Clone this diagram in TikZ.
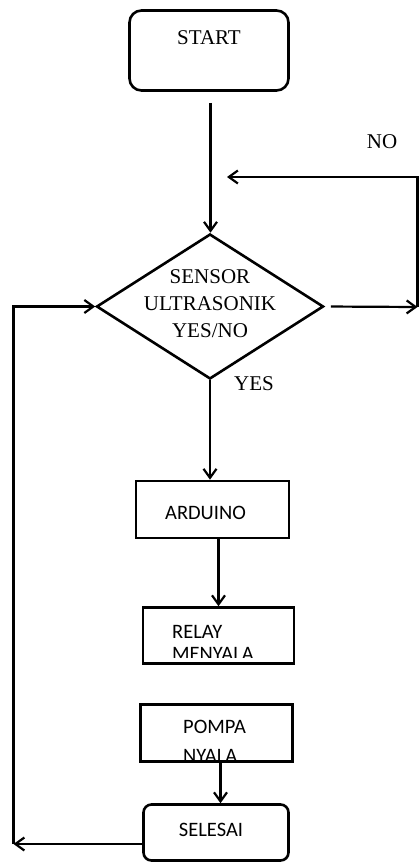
\documentclass[tikz,border=0pt]{standalone}
\usepackage{fontspec}
\setmainfont{Liberation Serif}
\newfontfamily\calfont{Carlito}
\usetikzlibrary{shapes.geometric,arrows.meta,calc}
\begin{document}
\begin{tikzpicture}[x=1pt,y=-1pt,
  serif/.style={inner sep=0,font=\fontsize{21}{27}\selectfont},
  sans/.style={inner sep=0,font=\calfont\fontsize{20.5}{21}\selectfont},
  roundbox/.style={draw,line width=2.6pt,rounded corners=#1,inner sep=0},
  flowbox/.style={draw,line width=2.6pt,inner sep=0},
  decision/.style={draw,diamond,line width=2.6pt,inner sep=0,minimum width=227pt,minimum height=145pt},
  flow/.style={line width=2.2pt,-{Straight Barb[length=9pt,width=13pt]}},
  plain/.style={line width=2.2pt}
]
\useasboundingbox (0,0) rectangle (419,864);

% START
\node[roundbox=12pt,minimum width=159pt,minimum height=80pt] (start) at (209,50.5) {};
\node[serif,anchor=base] (starttxt) at (209,45) {START};

% decision
\node[decision] (dia) at (210,306.5) {};
\node[serif,align=center] (diatxt) at (210,304) {SENSOR\\ULTRASONIK\\YES/NO};

% labels
\node[serif,anchor=base] (nolbl) at (382,148) {NO};
\node[serif,anchor=base] (yeslbl) at (254,390) {YES};

% ARDUINO
\node[flowbox,minimum width=153pt,minimum height=57pt] (arduino) at (212.5,509.5) {};
\node[sans,anchor=base] (arduinotxt) at (205.5,519) {ARDUINO};

% RELAY
\node[flowbox,minimum width=151pt,minimum height=56pt] (relay) at (218.5,635.5) {};
\begin{scope}
  \clip (142,606) rectangle (295,657);
  \node[sans,anchor=base west] (relaytxt) at (172,638) {RELAY};
  \node[sans,anchor=base west] (relaytxtb) at (172,660) {MENYALA};
\end{scope}

% POMPA
\node[sans,anchor=base west] (pompatxt) at (183,733) {POMPA};
\node[sans,anchor=base west] (pompatxtb) at (183,762) {NYALA};
\node[flowbox,minimum width=152pt,minimum height=57pt] (pompa) at (216.5,733) {};

% SELESAI
\node[roundbox=8pt,minimum width=145pt,minimum height=56pt] (selesai) at (216,832.5) {};
\node[sans,anchor=base] (selesaitxt) at (211,836) {SELESAI};

% coordinates
\coordinate (noR) at (417.5,307);
\coordinate (noTop) at (417.5,177);
\coordinate (noEnd) at (227,177);
\coordinate (lb) at (13.5,844);

% connectors
\draw[flow,shorten <=11pt] (start.south -| 210.5,0) -- (dia.north -| 210.5,0);
\draw[flow,shorten <=6pt] (dia.east) -- (noR);
\draw[flow] (noR) -- (noTop) -- (noEnd);
\draw[flow] (dia.south) -- (dia.south |- arduino.north);
\draw[flow] (arduino.south -| 218.5,0) -- (relay.north);
\draw[flow] (pompa.south -| 220.5,0) -- (selesai.north -| 220.5,0);
\draw[flow] (selesai.west |- lb) -- (lb);
\draw[flow] (lb) -- (lb |- dia.west) -- (dia.west);
\end{tikzpicture}
\end{document}
